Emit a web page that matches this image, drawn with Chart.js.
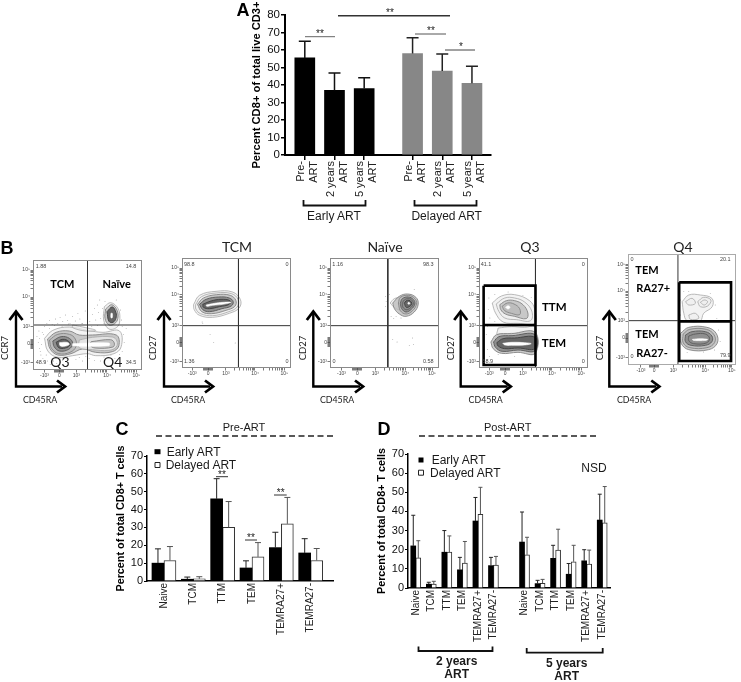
<!DOCTYPE html>
<html>
<head>
<meta charset="utf-8">
<script src="https://cdn.jsdelivr.net/npm/chart.js@4/dist/chart.umd.js"></script>
<style>
html,body{margin:0;padding:0;background:#fff;width:741px;height:682px;overflow:hidden}
#fig{position:absolute;left:0;top:0;width:741px;height:682px;filter:blur(0.4px)}
canvas{position:absolute}
svg{position:absolute;left:0;top:0}
.t{position:absolute;white-space:nowrap;transform:translate(-50%,-50%);line-height:1;color:#1a1a1a;font-family:"Liberation Sans",Arial,sans-serif}
.l{transform:translate(0,-50%)}
.c{font-family:Lato,"Open Sans",sans-serif}
.r{transform:translate(-50%,-50%) rotate(-90deg)}
</style>
</head>
<body>
<div id="fig"></div>
<script>
/* ---------- Panel A ---------- */
const aLabels = [["Pre-","ART"],["2 years","ART"],["5 years","ART"],["Pre-","ART"],["2 years","ART"],["5 years","ART"]];
const aPositions = [0,1,2,3.63,4.63,5.63];
const aEarly = [55.5,37,38];
const aEarlyTop = [65,46.8,44.2];
const aDelayed = [58,48,41];
const aDelayedTop = [67,57.7,50.7];
/* ---------- Panel C ---------- */
const cLabels = ["Naive","TCM","TTM","TEM","TEMRA27+","TEMRA27-"];
const cPositions = [0,1,2,3,4,5];
const cEarly = [10,1,46,7.3,18.7,15.7];
const cEarlyTop = [18,2.2,57.3,11.3,27.3,23.7];
const cDelayed = [11.5,1.2,30,13.5,32,11.5];
const cDelayedTop = [19.3,2.4,44.5,21.5,46.8,18.2];
/* ---------- Panel D ---------- */
const dLabels = ["Naive","TCM","TTM","TEM","TEMRA27+","TEMRA27-","Naive","TCM","TTM","TEM","TEMRA27+","TEMRA27-"];
const dPositions = [0,1,2,3,4,5,7,8,9,10,11,12];
const dEarly = [22,2,18.7,9.5,35,11.7,24,2.3,15.5,7.2,14.2,35.5];
const dEarlyTop = [38,3,30,16,47.3,16,39.7,4,22.3,12.8,20,49];
const dDelayed = [15.7,2,18.7,13,38.5,12,17.3,2.5,19.8,13.7,12.5,34];
const dDelayedTop = [24.7,3.5,27.2,24.3,52.6,16.5,26.5,4.5,30.7,22.3,19.8,53];
/* ---------- Panel B: flow plots, values in display channels ---------- */
const flowTickLabels = ["-10³","0","10³","10⁴","10⁵"];
const p1Contours = [
 [45,250,70,226,120,216,175,226,222,232,272,228,277,275,255,296,200,302,175,296,130,302,85,307,55,288],
 [226,155,245,143,267,160,273,190,266,215,240,222,224,195],
 [130,210,170,218,200,226,170,228,130,218],
 [54,252,80,232,120,228,150,240,190,240,262,240,270,272,250,290,200,292,160,282,125,296,85,300,62,282],
 [230,162,248,149,264,165,267,190,257,206,240,210,228,190],
 [60,255,85,238,120,238,138,252,140,275,122,292,88,296,66,280],
 [150,255,190,247,250,246,264,258,262,276,240,286,190,284,150,278],
 [234,170,250,156,261,172,261,190,252,202,240,199],
 [70,258,95,245,120,250,130,266,118,283,90,288,74,275],
 [80,262,100,253,118,259,122,270,108,279,88,278],
 [186,260,245,254,256,264,252,276,198,279,182,270],
 [246,175,250,175,250,188,246,188],
 [90,263,112,262,120,268,104,274,92,272],
 [130,266,240,264,240,272,130,272]
];
const p1Shades = "LLLMMMLKDKMWWW";
const p1Dots = [45,215,52,205,60,196,68,208,78,192,85,205,92,188,100,200,108,180,115,196,122,205,130,185,138,198,146,175,152,192,160,206,168,168,175,188,182,200,190,178,196,160,200,195,208,172,215,190,220,160,225,205,205,150,212,135,228,140,262,135,275,165,278,195,280,215,
 22,245,26,262,30,280,34,300,38,232,40,310,46,320,54,318,62,328,28,228,36,268,42,238,72,318,82,326,100,316,118,322,140,314,160,318,180,310,196,316,214,318,236,308,258,310,280,290,286,262,284,238,292,220,
 60,220,75,212,98,214,118,207,142,212,158,205,188,214,205,212,30,250,32,290,50,300,68,310,92,312,150,308,170,304,225,306,246,300,272,298];
const p2Contours = [
 [42,150,60,122,110,110,160,112,184,135,180,160,150,176,100,188,60,182,44,165],
 [48,150,66,126,110,115,157,117,177,135,174,157,146,172,100,183,63,177,49,163],
 [54,149,72,130,112,120,153,122,170,137,167,155,140,167,97,177,67,171],
 [60,149,80,134,118,127,150,130,162,141,156,154,128,162,90,171,70,165],
 [70,149,95,139,125,134,152,138,150,149,120,156,90,162,72,158],
 [80,151,105,146,130,143,155,143,130,149,100,152,82,155]
];
const p2Shades = "LLMDKW";
const p2Dots = [68,202,70,206,92,240,103,263,168,265];
const p3Contours = [
 [197,145,210,132,232,128,225,145,228,165,212,160],
 [205,145,225,125,250,118,275,128,282,148,270,172,245,185,225,178,210,162],
 [222,145,228,128,252,122,272,132,277,148,265,168,245,178,228,168],
 [228,146,234,132,252,127,268,135,272,148,261,164,245,172,232,162],
 [234,146,240,136,253,132,264,138,267,148,258,160,246,165,236,158],
 [240,146,245,139,254,137,261,142,262,149,255,156,246,158],
 [250,146,253,143,257,146,254,149]
];
const p3Shades = "LMMDDKW";
const p3Dots = [183,125,185,140,183,155,190,170,200,185,215,185,205,255,218,262,265,250,255,272,268,270,270,105,195,120,208,192,230,190];
const p4Contours = [
 [52,145,80,124,120,120,165,138,181,165,181,206,130,206,85,202,62,175],
 [70,220,110,216,150,218,181,216,181,240,110,236,68,240],
 [64,148,90,130,120,130,150,142,172,170,168,198,125,195,90,190,72,170],
 [75,150,95,138,120,138,145,150,160,175,155,192,120,185,92,178,78,165],
 [82,155,98,145,118,148,135,162,135,180,110,176,90,168],
 [92,158,100,153,106,158,100,163],
 [48,262,65,240,110,237,182,233,182,296,130,293,80,296,55,282],
 [56,262,72,246,112,243,182,240,182,288,130,286,82,290,62,278],
 [66,264,85,252,120,250,182,248,182,282,130,280,90,282,70,274],
 [84,266,110,263,150,264,170,267,150,271,110,272,90,271]
];
const p4Shades = "LLLMMWMDKW";
const p4Dots = [40,165,45,190,38,215,34,240,38,285,44,305,60,120,100,112,145,122,60,200,170,128,42,130,70,300,120,305];
const p5Contours = [
 [185,155,205,135,240,135,275,145,276,170,250,190,240,212,200,212,190,190],
 [195,155,215,145,225,160,205,165],
 [232,155,250,142,272,150,262,168,240,170],
 [240,157,252,150,262,155,252,165],
 [205,195,225,190,235,205,210,208],
 [180,250,205,232,260,232,288,250,291,280,265,299,205,299,182,280],
 [188,252,208,238,258,238,282,255,283,278,260,293,208,293,188,278],
 [195,255,215,245,255,245,275,258,275,275,255,286,212,286,195,275],
 [205,258,225,252,255,252,268,265,258,279,220,281,205,272],
 [216,268,240,266,262,268,258,271,235,272,218,271]
];
const p5Shades = "LLLLLMMDDW";
const p5Dots = [190,125,205,125,180,150,270,130,285,165,180,195,290,205,178,225,295,240,300,275,175,300,200,308,250,306,283,300];
const p4Rect = [26,93,183,93,183,331,26,331,26,93,null,null,26,211,183,211];
const p5Rect = [176,97,333,97,333,333,176,333,176,97,null,null,176,214,333,214];

/* ---------- helpers ---------- */
const fig = document.getElementById('fig');
const SANS = '"Liberation Sans",Arial,sans-serif';
function makeCanvas(b){
  const c = document.createElement('canvas');
  c.width = b.r-b.l; c.height = b.b-b.t;
  c.style.left=b.l+'px'; c.style.top=b.t+'px'; c.style.width=(b.r-b.l)+'px'; c.style.height=(b.b-b.t)+'px';
  fig.appendChild(c);
  return c.getContext('2d');
}
const errorBars = {
  id:'errorBars',
  afterDatasetsDraw(chart,args,opts){
    const ctx = chart.ctx, y = chart.scales.y;
    chart.data.datasets.forEach((ds,i)=>{
      const meta = chart.getDatasetMeta(i);
      meta.data.forEach((bar,j)=>{
        if(ds.errTop==null) return;
        const top = y.getPixelForValue(ds.errTop[j]);
        ctx.save();
        ctx.strokeStyle = ds.errColor; ctx.lineWidth = opts.width;
        ctx.beginPath();
        ctx.moveTo(bar.x, bar.y); ctx.lineTo(bar.x, top);
        ctx.moveTo(bar.x-opts.cap/2, top); ctx.lineTo(bar.x+opts.cap/2, top);
        ctx.stroke(); ctx.restore();
      });
    });
  }
};
function barChart(cfg){
  const ctx = makeCanvas(cfg.canvas);
  const p = cfg.plot, b = cfg.canvas;
  const baseTick = {color:'#111',font:{family:SANS,size:cfg.tickFont}};
  new Chart(ctx,{type:'bar',plugins:[errorBars],
    data:{datasets:cfg.datasets},
    options:{responsive:false,animation:false,events:[],
      layout:{padding:{top:p.t-b.t,right:b.r-p.r,left:0,bottom:0}},
      plugins:{legend:{display:false},tooltip:{enabled:false},errorBars:{width:cfg.errWidth,cap:cfg.cap}},
      datasets:{bar:{grouped:cfg.grouped,barThickness:cfg.barW,barPercentage:1,categoryPercentage:1}},
      scales:{
        x:{type:'linear',offset:false,min:cfg.xMin,max:cfg.xMax,
          grid:{offset:false,drawOnChartArea:false,drawTicks:cfg.xTickLen>0,tickLength:cfg.xTickLen,lineWidth:cfg.axisTick,color:'#000'},
          border:{color:'#000',width:cfg.axisW},
          afterBuildTicks:s=>{s.ticks=cfg.positions.map(v=>({value:v}));},
          afterFit:s=>{s.height=b.b-p.b;},
          ticks:{color:'#222',font:{family:SANS,size:cfg.xFont},autoSkip:false,minRotation:90,maxRotation:90,padding:cfg.xPad,labelOffset:cfg.labelOffset||0,
            callback:(v,i)=>cfg.labels[i]}},
        y:{min:0,max:cfg.yMax,
          grid:{drawOnChartArea:false,tickLength:cfg.tickLen,lineWidth:cfg.axisTick,color:'#000'},
          border:{color:'#000',width:cfg.axisW},
          afterFit:s=>{s.width=p.l-b.l;},
          ticks:{...baseTick,stepSize:10,padding:1},
          title:{display:true,text:cfg.yTitle,color:'#000',padding:0,font:{family:SANS,size:cfg.titleFont,weight:'bold'}}}
      }}});
}
function pts(xs,ys){return xs.map((x,i)=>({x,y:ys[i]}));}

/* Panel A */
barChart({canvas:{l:250,t:0,r:500,b:200},plot:{l:285,t:15,r:493,b:155},
  positions:aPositions,labels:aLabels,xMin:-0.667,xMax:6.27,yMax:80,grouped:false,barW:20,
  tickFont:11.5,xFont:11,xPad:1,xTickLen:5,labelOffset:-4,titleFont:11.2,tickLen:4,axisW:2,axisTick:1.5,errWidth:1.5,cap:12,
  yTitle:"Percent CD8+ of total live CD3+",
  datasets:[
   {label:"Early ART",data:pts(aPositions.slice(0,3),aEarly),backgroundColor:'#000',errTop:aEarlyTop,errColor:'#111'},
   {label:"Delayed ART",data:pts(aPositions.slice(3),aDelayed),backgroundColor:'#878787',errTop:aDelayedTop,errColor:'#222'}
  ]});
/* Panel C */
barChart({canvas:{l:115,t:445,r:340,b:640},plot:{l:147,t:456,r:333,b:581},
  positions:cPositions,labels:cLabels,xMin:-0.578,xMax:5.76,yMax:70,grouped:true,barW:12,
  tickFont:11,xFont:10,xPad:2,xTickLen:0,titleFont:10.8,tickLen:3,axisW:1.5,axisTick:1,errWidth:1,cap:6,
  yTitle:"Percent of total CD8+ T cells",
  datasets:[
   {label:"Early ART",data:pts(cPositions,cEarly),backgroundColor:'#000',errTop:cEarlyTop,errColor:'#222'},
   {label:"Delayed ART",data:pts(cPositions,cDelayed),backgroundColor:'#fff',borderColor:'#333',borderWidth:1,errTop:cDelayedTop,errColor:'#555'}
  ]});
/* Panel D */
barChart({canvas:{l:376,t:445,r:620,b:648},plot:{l:408,t:454,r:610,b:588},
  positions:dPositions,labels:dLabels,xMin:-0.5,xMax:12.5,yMax:70,grouped:true,barW:5,
  tickFont:11,xFont:10,xPad:2,xTickLen:0,titleFont:10.8,tickLen:3,axisW:1.5,axisTick:1,errWidth:1,cap:4,
  yTitle:"Percent of total CD8+ T cells",
  datasets:[
   {label:"Early ART",data:pts(dPositions,dEarly),backgroundColor:'#000',errTop:dEarlyTop,errColor:'#222'},
   {label:"Delayed ART",data:pts(dPositions,dDelayed),backgroundColor:'#fff',borderColor:'#333',borderWidth:1,errTop:dDelayedTop,errColor:'#555'}
  ]});

/* Panel B flow plots */
const frameBox = {id:'frameBox',afterDraw(chart,a,o){const c=chart.ctx,r=chart.chartArea;c.save();c.strokeStyle=o.color;c.lineWidth=1;c.strokeRect(r.left+.5,r.top+.5,r.right-r.left-1,r.bottom-r.top-1);c.restore();}};
const SHADE = {
  L:{line:'#a8a8a8',fill:'rgba(238,238,238,0.7)',w:.8},
  M:{line:'#858585',fill:'rgba(185,185,185,0.75)',w:.9},
  D:{line:'#606060',fill:'#8f8f8f',w:1},
  K:{line:'#444444',fill:'#666666',w:1},
  W:{line:'#ffffff',fill:'#ffffff',w:.6}
};
function pairs(a){const o=[];for(let i=0;i<a.length;i+=2)o.push(a[i]===null?{x:NaN,y:NaN}:{x:a[i],y:a[i+1]});return o;}
function tickSet(major){
  const t=[];major.forEach((v,i)=>t.push({value:v,label:flowTickLabels[i]}));
  const fr=[.3,.48,.6,.7,.78,.85,.9,.95];
  for(let i=2;i<major.length-1;i++) fr.forEach(f=>t.push({value:major[i]+(major[i+1]-major[i])*f,label:''}));
  for(let d=-14;d<=14;d+=3) if(d) t.push({value:major[1]+d,label:''});
  return t;
}
function flow(cfg){
  const b=cfg.box, cv={l:b.l-22,t:b.t-6,r:b.r+3,b:b.b+12};
  const ctx=makeCanvas(cv);
  const ds=[];
  cfg.contours.forEach((c,i)=>{
    const s=SHADE[cfg.shades[i]], n=pairs(c);
    n.push(n[0]);
    ds.push({data:n,showLine:true,tension:.4,pointRadius:0,borderColor:s.line,borderWidth:s.w,fill:'shape',backgroundColor:s.fill,order:200-i});
  });
  ds.push({data:pairs(cfg.dots),showLine:false,pointRadius:.45,pointBorderWidth:0,backgroundColor:'#777',order:300});
  ds.push({data:[{x:cfg.gate[0],y:cfg.y[0]},{x:cfg.gate[0],y:cfg.y[1]}],showLine:true,pointRadius:0,borderColor:cfg.gateColor||'#333',borderWidth:1,order:5});
  ds.push({data:[{x:cfg.x[0],y:cfg.gate[1]},{x:cfg.x[1],y:cfg.gate[1]}],showLine:true,pointRadius:0,borderColor:'#333',borderWidth:1,order:4});
  if(cfg.rect) ds.push({data:pairs(cfg.rect),showLine:true,spanGaps:false,pointRadius:0,borderColor:'#000',borderWidth:2.6,order:1});
  const xt=tickSet(cfg.xMajor), yt=tickSet(cfg.yMajor);
  const axis=(t,o)=>({type:'linear',grid:{drawOnChartArea:false,tickLength:2.5,lineWidth:.7,color:'#444'},border:{display:false},
    afterBuildTicks:s=>{s.ticks=t.map(v=>({value:v.value}));},
    ticks:{autoSkip:false,maxRotation:0,minRotation:0,padding:.5,color:'#444',font:{family:SANS,size:5},callback:(v,i)=>t[i].label},...o});
  new Chart(ctx,{type:'scatter',plugins:[frameBox],data:{datasets:ds},
    options:{responsive:false,animation:false,events:[],
      layout:{padding:{top:6,right:3,left:0,bottom:0}},
      plugins:{legend:{display:false},tooltip:{enabled:false},frameBox:{color:cfg.frame||'#8a8a8a'}},
      scales:{
        x:axis(xt,{min:cfg.x[0],max:cfg.x[1],afterFit:s=>{s.height=12;}}),
        y:axis(yt,{min:cfg.y[0],max:cfg.y[1],reverse:true,afterFit:s=>{s.width=22;}})
      }}});
}
flow({box:{l:33,t:260,r:143,b:370},x:[10,340],y:[15,345],gate:[175,210],xMajor:[45,90,141,234,323],yMajor:[323,267,215,126,45],contours:p1Contours,shades:p1Shades,dots:p1Dots});
flow({box:{l:182,t:258,r:292,b:368},x:[7,337],y:[10,340],gate:[178,213],xMajor:[38,86,140,228,317],yMajor:[320,263,212,120,40],contours:p2Contours,shades:p2Shades,dots:p2Dots});
flow({box:{l:330,t:258,r:440,b:368},x:[15,345],y:[10,340],gate:[190,213],xMajor:[50,98,152,243,324],yMajor:[320,263,212,120,40],contours:p3Contours,shades:p3Shades,dots:p3Dots});
flow({box:{l:479,t:258,r:589,b:368},x:[12,342],y:[10,340],gate:[183,213],xMajor:[43,91,145,233,322],yMajor:[320,263,212,120,40],contours:p4Contours,shades:p4Shades,dots:p4Dots,rect:p4Rect});
flow({box:{l:628,t:254,r:737,b:365},x:[21,348],y:[12,345],gate:[172,212],xMajor:[60,100,158,255,335],yMajor:[323,264,213,123,43],contours:p5Contours,shades:p5Shades,dots:p5Dots,rect:p5Rect,gateColor:'#888',frame:'#aaa'});

/* ---------- overlay: brackets, arrows, notes ---------- */
const NS='http://www.w3.org/2000/svg';
const svg=document.createElementNS(NS,'svg');svg.setAttribute('width',741);svg.setAttribute('height',682);fig.appendChild(svg);
function line(d,w,col,dash){const p=document.createElementNS(NS,'path');p.setAttribute('d',d);p.setAttribute('fill','none');p.setAttribute('stroke',col||'#000');p.setAttribute('stroke-width',w);if(dash)p.setAttribute('stroke-dasharray',dash);svg.appendChild(p);}
function text(s,x,y,size,opt={}){const e=document.createElement('div');e.className='t '+(opt.cls||'');e.textContent=s;e.style.left=x+'px';e.style.top=y+'px';e.style.fontSize=size+'px';if(opt.bold)e.style.fontWeight='bold';if(opt.color)e.style.color=opt.color;fig.appendChild(e);}
// panel letters
text('A',243,10,18,{bold:1,color:'#000'});text('B',7,248,18,{bold:1,color:'#000'});text('C',122,429,18,{bold:1,color:'#000'});text('D',384,429,18,{bold:1,color:'#000'});
// A significance
line('M305 36.7H335',1,'#666');text('**',320,34,10);
line('M338 15.7H450',1.5,'#333');text('**',390,13,10);
line('M415 34H446',1,'#555');text('**',431,31,10);
line('M445 50H475',1,'#444');text('*',461,47,10);
// A brackets
line('M303.5 200V205.5H365.5V200',1.8,'#111');line('M414.5 200V205.5H476.5V200',1.8,'#111');
text('Early ART',334,216,12);text('Delayed ART',446.7,216,12);
// C
text('Pre-ART',244,427,11);line('M156 436H333',1.5,'#222','6 3.5');
line('M216 476.7H228',1,'#333');text('**',222,475,10);
line('M245 540H257',1,'#333');text('**',251,538,10);
line('M274 495H286.7',1,'#333');text('**',280.7,493,10);
line('M154.5 451.7h6',5,'#000');text('Early ART',166.7,451.7,12,{cls:'l'});
line('M155 462.5h5v5h-5z',1,'#222');text('Delayed ART',165.7,465,12,{cls:'l'});
// D
text('Post-ART',507.7,427,11);line('M419 436H597',1.5,'#222','6 3.5');
line('M418.5 460h5',5,'#000');text('Early ART',431.7,460,12,{cls:'l'});
line('M418.5 470.2h5v5h-5z',1,'#222');text('Delayed ART',430,472.7,12,{cls:'l'});
text('NSD',594,467.7,12);
line('M418.5 646.5V651H492.5V646.5',1.8,'#111');line('M526.7 648V652.7H602.7V648',1.8,'#111');
text('2 years',456.7,661,12,{bold:1});text('ART',456.7,673.7,12,{bold:1});
text('5 years',566.7,663,12,{bold:1});text('ART',566.7,675.7,12,{bold:1});
// B arrows and axis names
const arrows=[[16,65,'CCR7',5,40],[164,213,'CD27',153,188],[313.3,363,'CD27',303,337],[460.7,510.7,'CD27',451,485.7],[609.3,659.3,'CD27',600,634]];
arrows.forEach(a=>{
  const x=a[0],r=a[1];
  line(`M${x} 312V386.5H${r-3}`,2.4,'#000');
  line(`M${x-6.5} 320L${x} 311.5L${x+6.5} 320`,2.8,'#000');
  line(`M${r-8} 380.5L${r} 386.5L${r-8} 392.5`,2.8,'#000');
  text(a[2],a[3],348,9.5,{cls:'c r'});
  text('CD45RA',a[4],400,8.8,{cls:'c'});
});
[['TCM',237],['Naïve',385],['Q3',530],['Q4',683]].forEach(t=>text(t[0],t[1],246.5,14,{cls:'c',color:'#222'}));
text('TCM',62.3,283.3,11,{cls:'c',bold:1,color:'#000'});text('Naïve',116.7,283.3,11,{cls:'c',bold:1,color:'#000'});
text('Q3',60,362.3,14,{cls:'c'});text('Q4',112.7,362.3,14,{cls:'c'});
text('TTM',554.3,306.7,11.5,{cls:'c',bold:1,color:'#000'});text('TEM',554,342.7,11.5,{cls:'c',bold:1,color:'#000'});
text('TEM',647,269,11,{cls:'c',bold:1,color:'#000'});text('RA27+',653.3,287.3,11,{cls:'c',bold:1,color:'#000'});
text('TEM',647,333.3,11,{cls:'c',bold:1,color:'#000'});text('RA27-',652,351.7,11,{cls:'c',bold:1,color:'#000'});
[['1.88',41,266.7],['14.8',131,266.7],['48.9',41,363],['34.5',131,363],
 ['98.8',189.3,265],['0',287,265],['1.36',189.3,361.7],['0',287,361.7],
 ['1.16',337.7,265],['98.3',428.3,265],['0',334,361.7],['0.58',428.3,361.7],
 ['41.1',486,265],['0',583.3,265],['58.9',487.7,361.7],['0',583.3,361.7],
 ['0',632,260],['20.1',725.3,260],['0',632,356.7],['79.9',725.3,356]].forEach(s=>text(s[0],s[1],s[2],5.5,{color:'#444'}));
</script>
</body>
</html>
